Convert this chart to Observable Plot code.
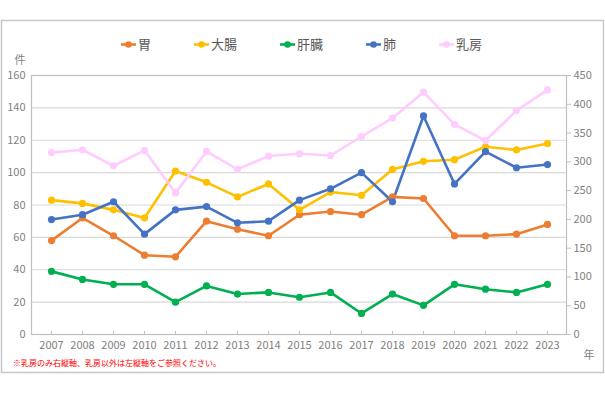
<!DOCTYPE html>
<html><head><meta charset="utf-8">
<script src="https://cdn.jsdelivr.net/npm/d3@7"></script>
<script src="https://cdn.jsdelivr.net/npm/@observablehq/plot@0.6"></script>
<style>
body{margin:0;background:#fff;}
svg{font-family:"Noto Sans CJK JP","Noto Sans",sans-serif;}
</style></head>
<body><div id="chart"></div>
<script>
const years = ["2007","2008","2009","2010","2011","2012","2013","2014","2015","2016","2017","2018","2019","2020","2021","2022","2023"];
const seriesNames = ["胃","大腸","肝臓","肺","乳房"];
const seriesColors = ["#ED7D31","#FFC000","#00B050","#4472C4","#FFCCFF"];
const stomach = [58,72,61,49,48,70,65,61,74,76,74,85,84,61,61,62,68];
const colon   = [83,81,77,72,101,94,85,93,77,88,86,102,107,108,116,114,118];
const liver   = [39,34,31,31,20,30,25,26,23,26,13,25,18,31,28,26,31];
const lung    = [71,74,82,62,77,79,69,70,83,90,100,82,135,93,113,103,105];
const breast  = [316,321,293,320,246,318,287,310,314,311,344,376,421,365,337,389,425]; // right axis
const leftTicks = [0,20,40,60,80,100,120,140,160];
const rightTicks = [0,50,100,150,200,250,300,350,400,450];
const leftMax = 160, rightMax = 450;
const footnote = "※乳房のみ右縦軸、乳房以外は左縦軸をご参照ください。";
const leftUnit = "件", xUnit = "年";

const seriesValues = [stomach, colon, liver, lung, breast];
const toLeft = v => v * leftMax / rightMax;
const rows = [];
seriesNames.forEach((name, i) => {
  seriesValues[i].forEach((v, j) => {
    rows.push({series: name, year: years[j], value: i === 4 ? toLeft(v) : v});
  });
});

const textColor = "#595959";
const plot = Plot.plot({
  width: 605, height: 395,
  marginLeft: 31, marginRight: 39, marginTop: 75, marginBottom: 61,
  style: {fontSize: "11px", color: textColor, background: "transparent", fontFamily: '"Noto Sans CJK JP","Noto Sans",sans-serif'},
  x: {type: "point", domain: years, padding: 0.5},
  y: {domain: [0, leftMax]},
  color: {domain: seriesNames, range: seriesColors},
  marks: [
    Plot.ruleY(leftTicks, {stroke: "#d9d9d9", strokeWidth: 1.2}),
    Plot.frame({stroke: "#bfbfbf", strokeWidth: 1.2}),
    Plot.ruleX(years, {x: d => d, y1: 0, y2: 1.8, stroke: "#bfbfbf"}),
    Plot.axisY(leftTicks, {anchor: "left", tickSize: 0, tickPadding: 6, label: null, fill: "#7f7f7f"}),
    Plot.axisY(rightTicks.map(toLeft), {anchor: "right", tickSize: 4, tickPadding: 3, stroke: "#bfbfbf", label: null, fill: "#7f7f7f", tickFormat: d => Math.round(d * rightMax / leftMax)}),
    Plot.axisX({anchor: "bottom", tickSize: 0, tickPadding: 7, label: null, fill: "#7f7f7f"}),
    Plot.line(rows, {x: "year", y: "value", z: "series", stroke: "series", strokeWidth: 2.6}),
    Plot.dot(rows, {x: "year", y: "value", fill: "series", r: 3.6})
  ]
});
document.getElementById("chart").appendChild(plot);

const svg = d3.select(plot);
// outer frame
svg.insert("rect", ":first-child").attr("x", 1.5).attr("y", 20.5).attr("width", 602).attr("height", 352)
  .attr("fill", "#fff").attr("stroke", "#c8c8c8").attr("stroke-width", 1.5);

// unit labels
svg.append("text").attr("x", 20).attr("y", 64).attr("text-anchor", "middle").attr("font-size", 11).attr("fill", "#7f7f7f").text(leftUnit);
svg.append("text").attr("x", 589).attr("y", 359).attr("text-anchor", "middle").attr("font-size", 11).attr("fill", "#7f7f7f").text(xUnit);

// footnote
svg.append("text").attr("x", 13).attr("y", 366).attr("text-anchor", "start").attr("font-size", 8).attr("fill", "#ff0000").text(footnote);

// legend
const lg = svg.append("g").attr("text-anchor", "start");
let lx = 121;
const ly = 44.5;
seriesNames.forEach((name, i) => {
  lg.append("line").attr("x1", lx).attr("x2", lx + 15).attr("y1", ly).attr("y2", ly)
    .attr("stroke", seriesColors[i]).attr("stroke-width", 2.6);
  lg.append("circle").attr("cx", lx + 7.5).attr("cy", ly).attr("r", 3.3).attr("fill", seriesColors[i]);
  const t = lg.append("text").attr("x", lx + 17).attr("y", ly).attr("dy", "0.36em")
    .attr("text-anchor", "start").attr("font-size", 13).attr("fill", textColor).text(name);
  const w = t.node().getComputedTextLength();
  lx = lx + 17 + w + 43;
});
</script></body></html>
